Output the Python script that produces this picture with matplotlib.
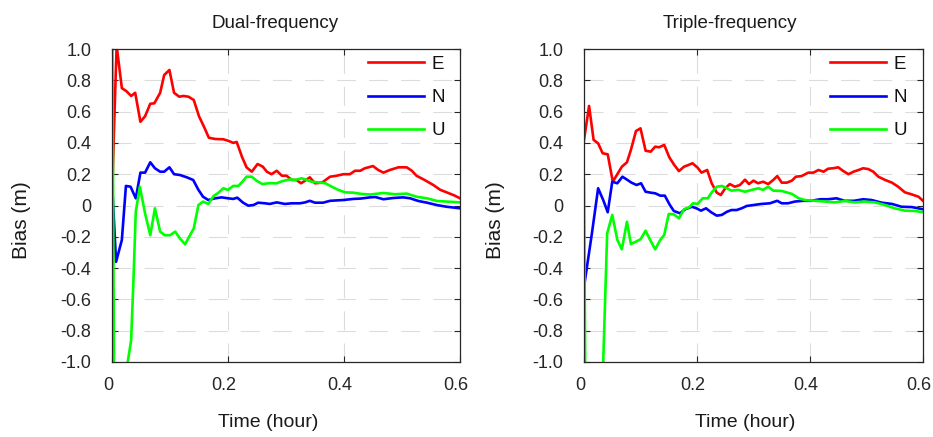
import matplotlib
matplotlib.use("Agg")
import matplotlib.pyplot as plt
from matplotlib.transforms import ScaledTranslation

# ---- data (time in hours, bias in metres) ----
dual_t_e = [0, 0.004, 0.008, 0.017, 0.025, 0.033, 0.040, 0.049, 0.057, 0.066, 0.073, 0.083,
            0.090, 0.099, 0.107, 0.116, 0.123, 0.132, 0.141, 0.150, 0.159, 0.167, 0.178, 0.192,
            0.200, 0.209, 0.215, 0.224, 0.232, 0.241, 0.251, 0.260, 0.267, 0.275, 0.284, 0.293,
            0.301, 0.310, 0.318, 0.326, 0.333, 0.341, 0.350, 0.362, 0.376, 0.387, 0.399, 0.410,
            0.419, 0.428, 0.436, 0.450, 0.459, 0.468, 0.479, 0.494, 0.508, 0.517, 0.525, 0.537,
            0.554, 0.566, 0.577, 0.591, 0.600]
dual_e = [0.03, 0.55, 1.02, 0.75, 0.73, 0.70, 0.72, 0.535, 0.57, 0.65, 0.653, 0.72,
          0.834, 0.866, 0.72, 0.695, 0.70, 0.695, 0.674, 0.57, 0.50, 0.433, 0.425, 0.423,
          0.414, 0.40, 0.406, 0.312, 0.244, 0.216, 0.265, 0.248, 0.216, 0.20, 0.222, 0.19,
          0.19, 0.163, 0.163, 0.142, 0.159, 0.18, 0.142, 0.146, 0.184, 0.19, 0.20, 0.20,
          0.222, 0.222, 0.238, 0.252, 0.227, 0.21, 0.227, 0.244, 0.244, 0.222, 0.19, 0.167,
          0.131, 0.10, 0.084, 0.063, 0.046]

dual_t_n = [0, 0.007, 0.017, 0.024, 0.032, 0.041, 0.049, 0.057, 0.066, 0.074, 0.083, 0.090,
            0.099, 0.107, 0.117, 0.129, 0.140, 0.149, 0.157, 0.166, 0.178, 0.189, 0.200, 0.209,
            0.216, 0.226, 0.235, 0.244, 0.252, 0.264, 0.272, 0.284, 0.298, 0.310, 0.324, 0.333,
            0.341, 0.350, 0.364, 0.376, 0.399, 0.416, 0.428, 0.445, 0.454, 0.468, 0.485, 0.502,
            0.514, 0.528, 0.543, 0.560, 0.577, 0.600]
dual_n = [0.15, -0.36, -0.22, 0.125, 0.12, 0.046, 0.21, 0.21, 0.276, 0.238, 0.216, 0.216,
          0.244, 0.20, 0.195, 0.18, 0.163, 0.10, 0.056, 0.035, 0.046, 0.052, 0.046, 0.042,
          0.05, 0.018, -0.001, 0.003, 0.018, 0.014, 0.01, 0.02, 0.01, 0.014, 0.014, 0.02,
          0.03, 0.018, 0.018, 0.03, 0.035, 0.042, 0.044, 0.052, 0.054, 0.04, 0.048, 0.052,
          0.046, 0.029, 0.018, 0.003, -0.008, -0.018]

dual_t_u = [0, 0.004, 0.025, 0.033, 0.037, 0.041, 0.048, 0.057, 0.066, 0.074, 0.083, 0.091,
            0.100, 0.109, 0.117, 0.126, 0.133, 0.141, 0.149, 0.157, 0.166, 0.175, 0.183, 0.192,
            0.200, 0.209, 0.218, 0.226, 0.232, 0.241, 0.249, 0.259, 0.270, 0.284, 0.293, 0.307,
            0.316, 0.327, 0.336, 0.344, 0.359, 0.368, 0.379, 0.390, 0.402, 0.416, 0.430, 0.445,
            0.468, 0.488, 0.508, 0.525, 0.543, 0.560, 0.577, 0.600]
dual_u = [1.5, -1.5, -1.05, -0.86, -0.476, -0.04, 0.12, -0.05, -0.19, -0.018, -0.167, -0.19,
          -0.19, -0.167, -0.21, -0.248, -0.2, -0.146, 0.003, 0.025, 0.01, 0.06, 0.08, 0.11,
          0.10, 0.125, 0.125, 0.157, 0.184, 0.184, 0.159, 0.137, 0.142, 0.142, 0.155, 0.167,
          0.163, 0.174, 0.163, 0.152, 0.146, 0.142, 0.12, 0.10, 0.084, 0.082, 0.074, 0.07,
          0.08, 0.072, 0.076, 0.056, 0.046, 0.029, 0.025, 0.02]

triple_t_e = [0, 0.009, 0.017, 0.025, 0.033, 0.042, 0.051, 0.060, 0.067, 0.076, 0.083, 0.092,
              0.100, 0.109, 0.118, 0.126, 0.133, 0.142, 0.151, 0.159, 0.168, 0.177, 0.185, 0.192,
              0.201, 0.208, 0.218, 0.226, 0.235, 0.242, 0.250, 0.258, 0.267, 0.276, 0.285, 0.292,
              0.300, 0.308, 0.317, 0.326, 0.335, 0.342, 0.350, 0.359, 0.368, 0.375, 0.385, 0.397,
              0.406, 0.415, 0.424, 0.432, 0.441, 0.450, 0.459, 0.468, 0.477, 0.486, 0.494, 0.503,
              0.512, 0.521, 0.533, 0.545, 0.556, 0.568, 0.580, 0.592, 0.600]
triple_e = [0.419, 0.636, 0.419, 0.397, 0.334, 0.327, 0.152, 0.206, 0.248, 0.276, 0.355, 0.476,
            0.493, 0.35, 0.344, 0.376, 0.372, 0.387, 0.308, 0.263, 0.22, 0.248, 0.259, 0.27,
            0.242, 0.21, 0.227, 0.142, 0.082, 0.067, 0.11, 0.137, 0.12, 0.131, 0.165, 0.137,
            0.159, 0.142, 0.152, 0.137, 0.163, 0.188, 0.146, 0.146, 0.159, 0.184, 0.188, 0.21,
            0.21, 0.227, 0.216, 0.235, 0.238, 0.244, 0.22, 0.20, 0.216, 0.227, 0.238, 0.233,
            0.216, 0.184, 0.163, 0.146, 0.12, 0.084, 0.071, 0.056, 0.03]

triple_t_n = [0, 0.014, 0.025, 0.034, 0.042, 0.050, 0.059, 0.068, 0.077, 0.084, 0.093, 0.101,
              0.109, 0.118, 0.126, 0.135, 0.143, 0.152, 0.159, 0.170, 0.179, 0.191, 0.199, 0.207,
              0.216, 0.225, 0.235, 0.244, 0.253, 0.261, 0.270, 0.279, 0.288, 0.300, 0.314, 0.329,
              0.342, 0.350, 0.361, 0.373, 0.387, 0.402, 0.418, 0.432, 0.447, 0.461, 0.478, 0.494,
              0.509, 0.527, 0.545, 0.562, 0.580, 0.600]
triple_n = [-0.52, -0.178, 0.11, 0.035, -0.043, 0.152, 0.142, 0.184, 0.163, 0.146, 0.131, 0.142,
            0.088, 0.082, 0.078, 0.063, 0.063, 0.003, -0.035, -0.05, -0.024, -0.008, -0.018, -0.033,
            -0.018, -0.043, -0.065, -0.06, -0.04, -0.029, -0.029, -0.018, -0.003, 0.003, 0.01, 0.014,
            0.03, 0.014, 0.014, 0.025, 0.03, 0.03, 0.04, 0.04, 0.046, 0.03, 0.03, 0.04,
            0.035, 0.018, 0.01, -0.008, -0.01, -0.024]

triple_t_u = [0, 0.003, 0.030, 0.034, 0.041, 0.050, 0.059, 0.067, 0.076, 0.083, 0.092, 0.100,
              0.109, 0.117, 0.126, 0.135, 0.142, 0.150, 0.159, 0.168, 0.177, 0.186, 0.193, 0.201,
              0.210, 0.219, 0.227, 0.235, 0.244, 0.253, 0.261, 0.273, 0.285, 0.297, 0.309, 0.317,
              0.326, 0.335, 0.350, 0.368, 0.380, 0.391, 0.409, 0.427, 0.444, 0.462, 0.479, 0.497,
              0.515, 0.533, 0.550, 0.568, 0.586, 0.600]
triple_u = [0.163, -1.5, -1.3, -1.0, -0.178, -0.06, -0.22, -0.28, -0.104, -0.246, -0.231, -0.216,
            -0.161, -0.22, -0.28, -0.22, -0.188, -0.054, -0.056, -0.082, -0.024, -0.012, 0.014, 0.01,
            0.046, 0.046, 0.088, 0.12, 0.125, 0.11, 0.095, 0.10, 0.088, 0.10, 0.11, 0.10,
            0.12, 0.095, 0.093, 0.074, 0.046, 0.035, 0.03, 0.025, 0.02, 0.029, 0.02, 0.025,
            0.02, 0.003, -0.018, -0.033, -0.035, -0.043]

x_ticks = [0, 0.2, 0.4, 0.6]
x_tick_labels = ['0', '0.2', '0.4', '0.6']
y_ticks = [1.0, 0.8, 0.6, 0.4, 0.2, 0, -0.2, -0.4, -0.6, -0.8, -1.0]
y_tick_labels = ['1.0', '0.8', '0.6', '0.4', '0.2', '0', '-0.2', '-0.4', '-0.6', '-0.8', '-1.0']

plt.rcParams['font.family'] = ['Liberation Sans', 'DejaVu Sans']
plt.rcParams['lines.scale_dashes'] = False

TXT = '#262626'


def style_axes(ax, title, title_x, xlabel_x):
    ax.set_xlim(0, 0.6)
    ax.set_ylim(-1, 1)
    ax.set_xticks(x_ticks)
    ax.set_xticklabels(x_tick_labels)
    ax.set_yticks(y_ticks)
    ax.set_yticklabels(y_tick_labels)
    ax.grid(True, color='#dcdcdc', linestyle=(0, (13.7, 9.4)), linewidth=0.8)
    ax.set_axisbelow(True)
    ax.tick_params(direction='in', top=True, right=True, length=4, width=0.8,
                   colors=TXT, labelsize=13)
    ax.tick_params(axis='y', pad=15)
    ax.tick_params(axis='x', pad=11)
    for s in ax.spines.values():
        s.set_color(TXT)
        s.set_linewidth(0.9)
    # tick labels in the reference sit a little left of their ticks
    shift = ScaledTranslation(-4 / 100, 0, fig.dpi_scale_trans)
    for lab in ax.get_xticklabels():
        lab.set_transform(lab.get_transform() + shift)

    ax.set_title(title, fontsize=13.5, pad=15, color='#1a1a1a', x=title_x)
    ax.set_xlabel('Time (hour)', fontsize=14, color='#1a1a1a')
    ax.xaxis.set_label_coords(xlabel_x, -0.166)
    ax.set_ylabel('Bias (m)', fontsize=15, color='#1a1a1a')
    ax.yaxis.set_label_coords(-0.232, 0.454)


fig = plt.figure(figsize=(9.33, 4.37), dpi=100)
ax_l = fig.add_axes([112 / 933, 75 / 437, 348 / 933, 313 / 437])
ax_r = fig.add_axes([584 / 933, 75 / 437, 339 / 933, 313 / 437])

panels = [
    (ax_l, 'Dual-frequency', 0.468, 0.448, dual_t_e, dual_e, dual_t_n, dual_n, dual_t_u, dual_u, 0.957),
    (ax_r, 'Triple-frequency', 0.431, 0.475, triple_t_e, triple_e, triple_t_n, triple_n,
     triple_t_u, triple_u, 0.953),
]

for ax, title, tx, lx, te, e, tn, n, tu, u, leg_x in panels:
    ax.plot(te, e, color='#ff0000', lw=1.9, label='E')
    ax.plot(tn, n, color='#0000ff', lw=1.9, label='N')
    ax.plot(tu, u, color='#00ff00', lw=1.9, label='U')
    style_axes(ax, title, tx, lx)
    leg = ax.legend(loc='upper right', bbox_to_anchor=(leg_x, 0.978), frameon=False,
                    fontsize=13.5, handlelength=3.0, handletextpad=0.4, labelspacing=0.85,
                    borderpad=0, borderaxespad=0)
    for txt in leg.get_texts():
        txt.set_color('#111111')

fig.savefig('out.png', dpi=100)
